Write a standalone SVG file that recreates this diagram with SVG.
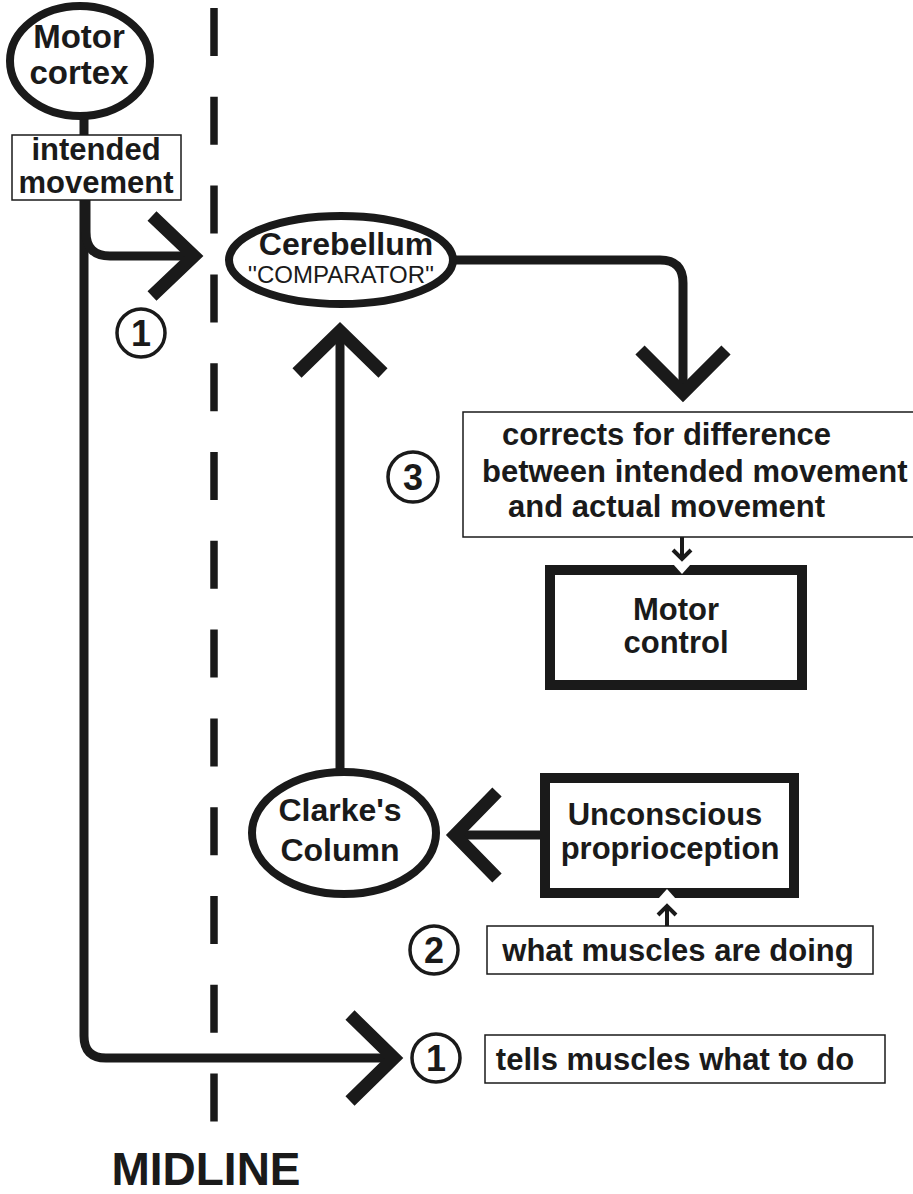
<svg xmlns="http://www.w3.org/2000/svg" width="913" height="1194" viewBox="0 0 913 1194">
  <style>
    .lbl { font-family: "Liberation Sans", Arial, sans-serif; font-weight: bold; fill: #1a1a1a; text-anchor: middle; }
    .left { text-anchor: start; }
    .plain { font-weight: normal; }
    .node { fill: #fff; stroke: #1a1a1a; stroke-width: 8; }
    .thick { fill: #fff; stroke: #1a1a1a; stroke-width: 10; }
    .thin { fill: #fff; stroke: #1a1a1a; stroke-width: 1.5; }
    .wire { fill: none; stroke: #1a1a1a; stroke-width: 9; }
    .head { fill: none; stroke: #1a1a1a; stroke-width: 13; stroke-linejoin: miter; stroke-miterlimit: 10; }
    .small { fill: none; stroke: #1a1a1a; stroke-width: 4; stroke-linejoin: miter; }
    .ring { fill: #fff; stroke: #1a1a1a; stroke-width: 3.5; }
    .num { font-family: "Liberation Sans", Arial, sans-serif; font-weight: bold; fill: #1a1a1a; text-anchor: middle; font-size: 36px; }
  </style>

  <!-- midline -->
  <g id="midline">
    <line x1="214" y1="8" x2="214" y2="1122" stroke="#1a1a1a" stroke-width="7.5" stroke-dasharray="48 40.8"/>
    <text class="lbl" x="206" y="1185" font-size="46">MIDLINE</text>
  </g>

  <!-- connectors -->
  <g id="connectors">
    <!-- motor cortex stem and descending pathway -->
    <path class="wire" d="M 84 112 V 136"/>
    <path class="wire" d="M 84 200 V 1036 Q 84 1058 106 1058 H 392"/>
    <path class="head" d="M 350 1015 L 394 1058 L 350 1101"/>
    <!-- branch to cerebellum -->
    <path class="wire" d="M 86 200 V 232 Q 86 256 110 256 H 192"/>
    <path class="head" d="M 152 216 L 194 256 L 152 296"/>
    <!-- cerebellum output -->
    <path class="wire" d="M 452 260 H 660 Q 683 260 683 283 V 390"/>
    <path class="head" d="M 640 350 L 683 393 L 726 350"/>
    <!-- clarke's column up to cerebellum -->
    <path class="wire" d="M 340 772 V 334"/>
    <path class="head" d="M 297 373 L 340 331 L 383 373"/>
    <!-- proprioception into clarke's column -->
    <path class="wire" d="M 544 835 H 460"/>
    <path class="head" d="M 497 792 L 455 835 L 497 878"/>
    <!-- corrects box to motor control -->
    <path class="small" d="M 682 537 V 558"/>
    <path class="small" d="M 673 550 L 682 559 L 691 550"/>
    <!-- muscle state to proprioception -->
    <path class="small" d="M 667 926 V 908"/>
    <path class="small" d="M 658 915 L 667 906 L 676 915"/>
  </g>

  <g id="motor-cortex">
    <ellipse class="node" cx="80" cy="61" rx="70" ry="55"/>
    <text class="lbl" x="79" y="48" font-size="33">Motor</text>
    <text class="lbl" x="79" y="84" font-size="33">cortex</text>
  </g>

  <g id="intended-movement">
    <rect class="thin" x="12" y="135" width="169" height="65"/>
    <text class="lbl" x="96" y="160" font-size="31">intended</text>
    <text class="lbl" x="96" y="193" font-size="31">movement</text>
  </g>

  <g id="step-1a">
    <circle class="ring" cx="141" cy="333" r="24"/>
    <text class="num" x="141" y="346">1</text>
  </g>

  <g id="cerebellum">
    <ellipse class="node" cx="341" cy="260" rx="112" ry="44"/>
    <text class="lbl" x="346" y="255" font-size="32">Cerebellum</text>
    <text class="lbl plain" x="341" y="283" font-size="24">''COMPARATOR''</text>
  </g>

  <g id="step-3">
    <circle class="ring" cx="413" cy="477" r="25"/>
    <text class="num" x="413" y="490">3</text>
  </g>

  <g id="corrects">
    <rect class="thin" x="463" y="412" width="460" height="125"/>
    <text class="lbl left" x="502" y="445" font-size="31">corrects for difference</text>
    <text class="lbl left" x="482" y="482" font-size="31">between intended movement</text>
    <text class="lbl left" x="508" y="517" font-size="31">and actual movement</text>
  </g>

  <g id="motor-control">
    <rect class="thick" x="550" y="570" width="252" height="115"/>
    <polygon points="673,564 691,564 682,574" fill="#fff"/>
    <text class="lbl" x="676" y="620" font-size="31">Motor</text>
    <text class="lbl" x="676" y="653" font-size="31">control</text>
  </g>

  <g id="clarkes-column">
    <ellipse class="node" cx="344" cy="833" rx="92" ry="61"/>
    <text class="lbl" x="340" y="821" font-size="32">Clarke's</text>
    <text class="lbl" x="340" y="861" font-size="32">Column</text>
  </g>

  <g id="unconscious-proprioception">
    <rect class="thick" x="545" y="778" width="249" height="115"/>
    <polygon points="658,899 676,899 667,889" fill="#fff"/>
    <text class="lbl" x="665" y="825" font-size="31">Unconscious</text>
    <text class="lbl" x="670" y="859" font-size="31">proprioception</text>
  </g>

  <g id="step-2">
    <circle class="ring" cx="434" cy="950" r="24"/>
    <text class="num" x="434" y="963">2</text>
  </g>

  <g id="muscle-state">
    <rect class="thin" x="487" y="926" width="386" height="48"/>
    <text class="lbl" x="678" y="961" font-size="31">what muscles are doing</text>
  </g>

  <g id="step-1b">
    <circle class="ring" cx="436" cy="1058" r="24"/>
    <text class="num" x="436" y="1071">1</text>
  </g>

  <g id="muscle-command">
    <rect class="thin" x="485" y="1035" width="400" height="48"/>
    <text class="lbl" x="675" y="1070" font-size="31">tells muscles what to do</text>
  </g>
</svg>
